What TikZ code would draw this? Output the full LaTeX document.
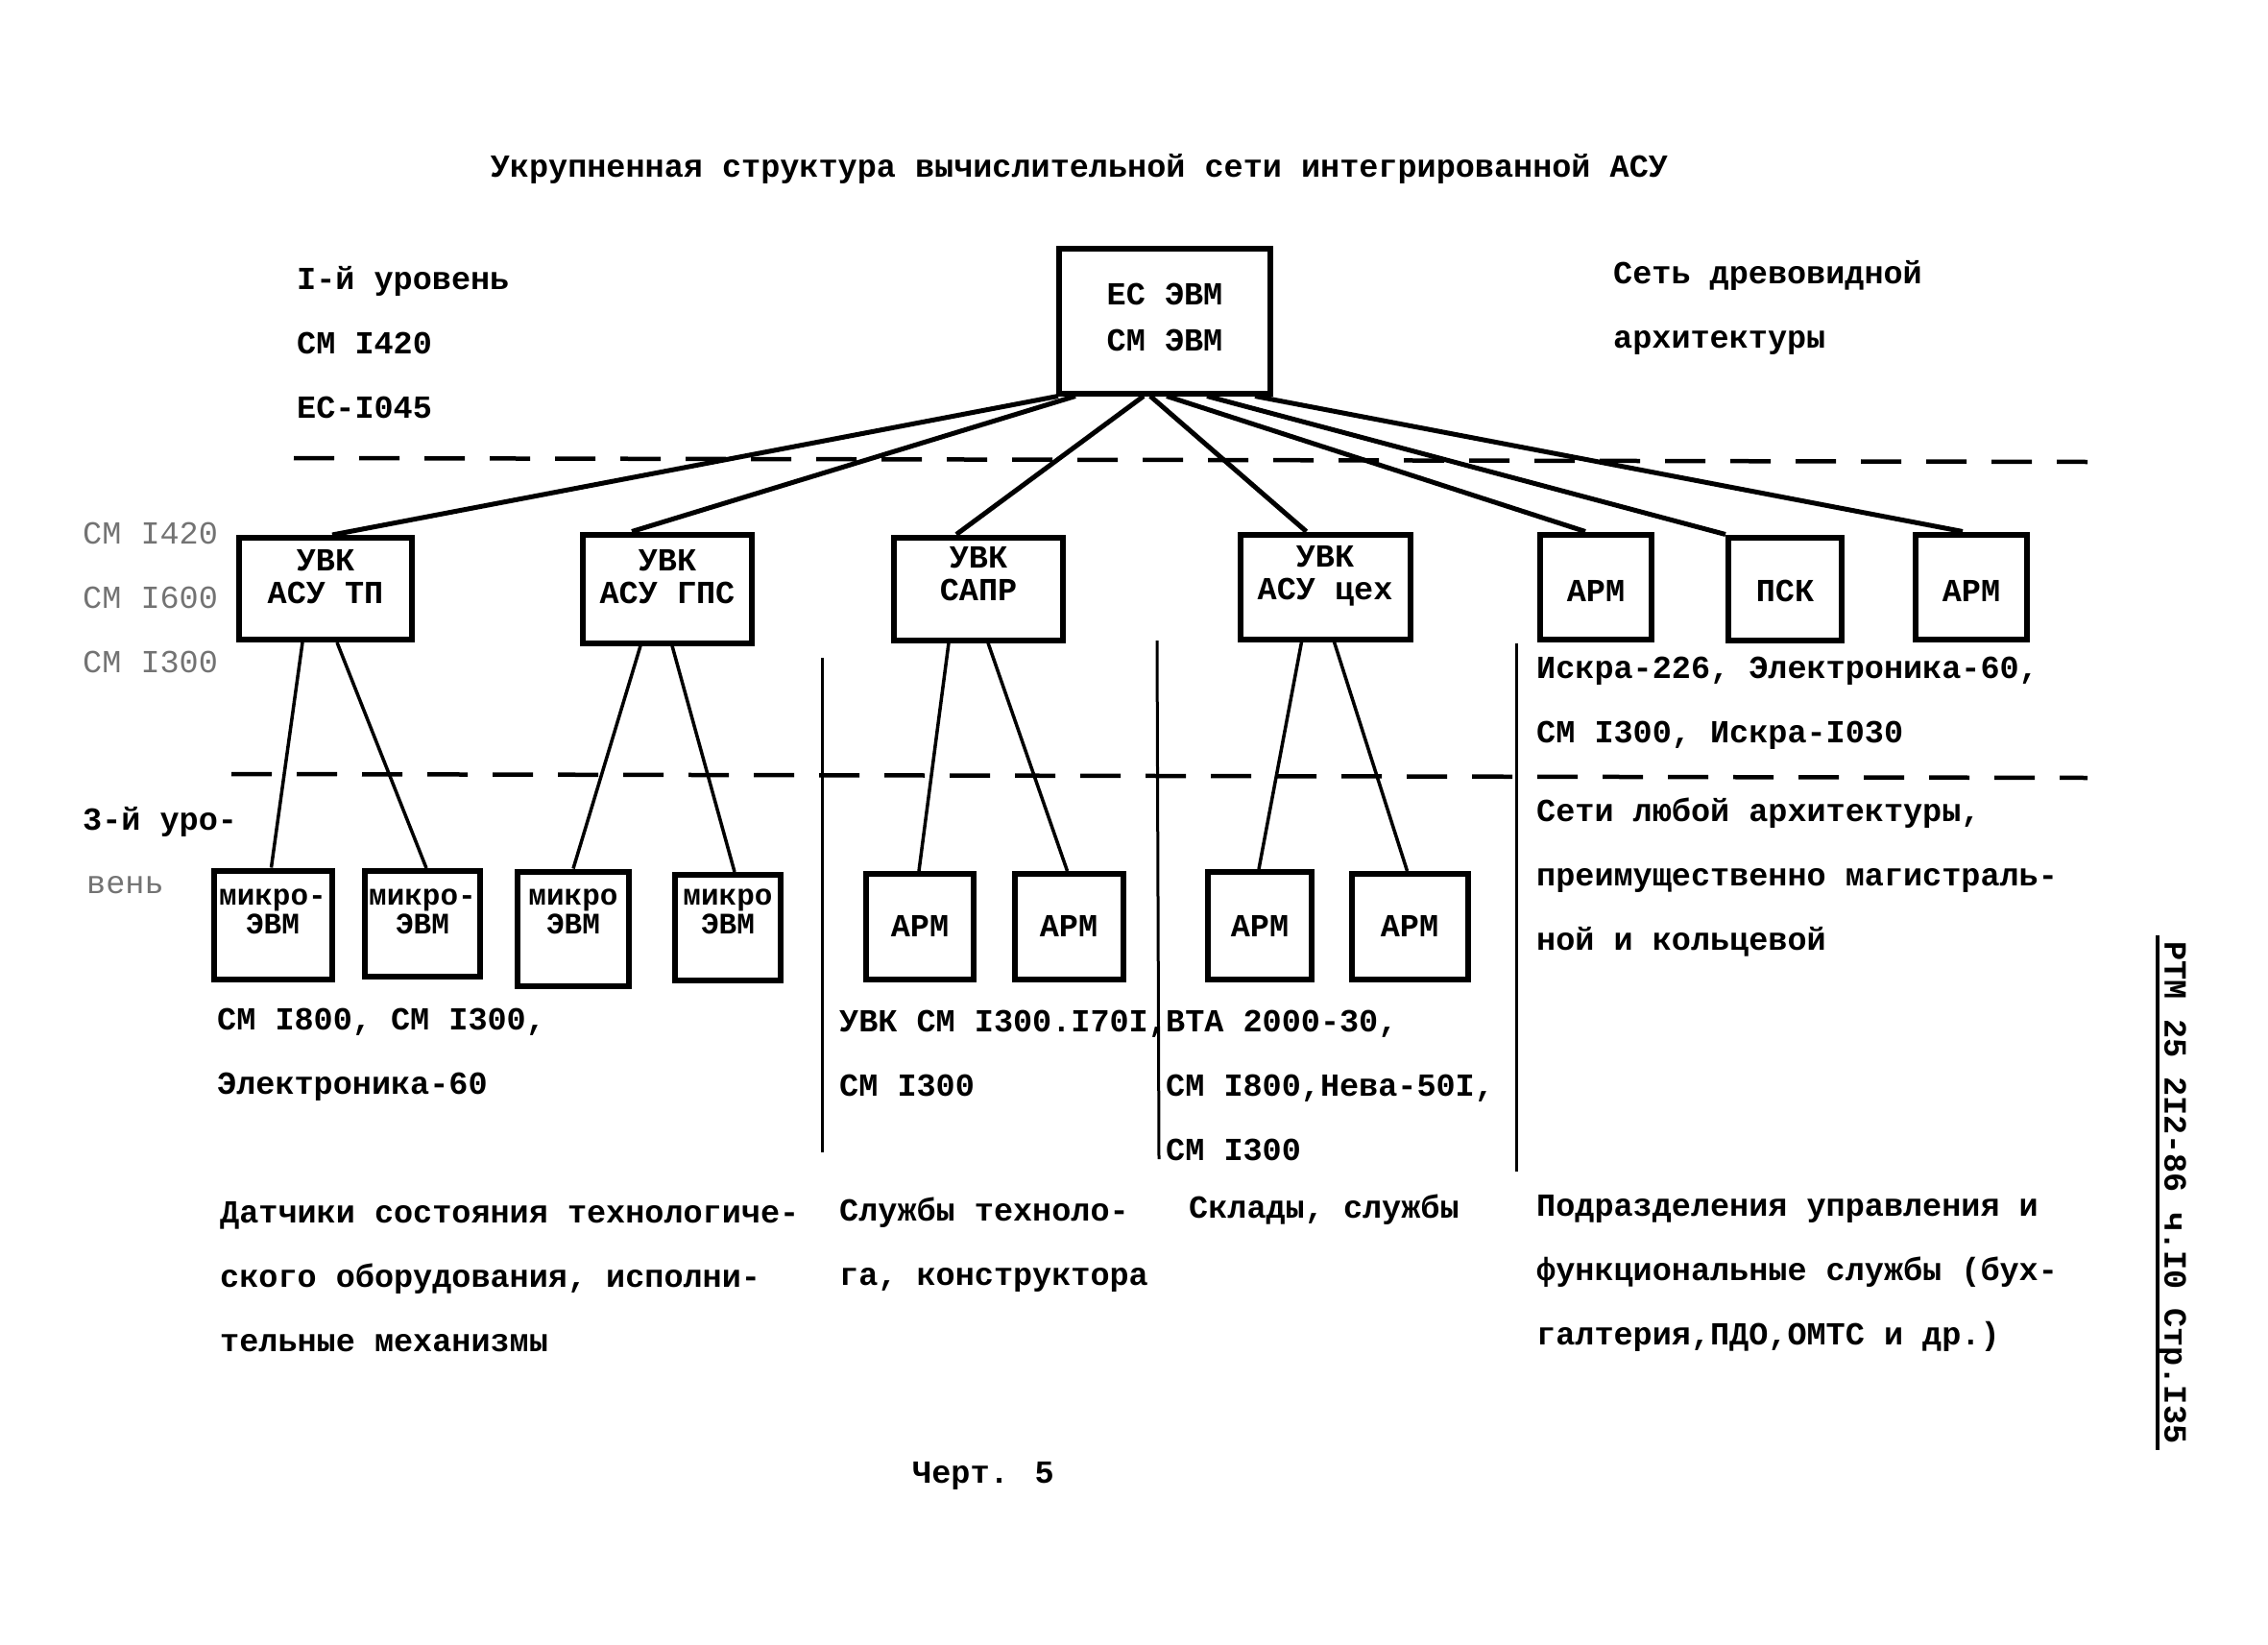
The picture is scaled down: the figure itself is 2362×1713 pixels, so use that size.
\documentclass[tikz,border=0pt]{standalone}
\usepackage{fontspec}
\setmainfont{Liberation Mono}
\usetikzlibrary{calc}
\begin{document}
\begin{tikzpicture}[x=1pt,y=-1pt,
  txt/.style={font=\fontsize{33.5}{67}\selectfont\bfseries, inner sep=0pt, anchor=west, align=left},
  faint/.style={font=\fontsize{33.5}{67}\selectfont, text=black!55, inner sep=0pt, anchor=west, align=left},
  box/.style={draw, line width=6pt, inner sep=0pt},
  btxt/.style={font=\fontsize{33.5}{34}\selectfont\bfseries, inner sep=0pt, align=center},
  stxt/.style={font=\fontsize{31}{30}\selectfont\bfseries, inner sep=0pt, align=center},
  link/.style={line width=5pt},
  thinlink/.style={line width=3.5pt},
  vsep/.style={line width=3pt},
  dsep/.style={line width=4.5pt, dash pattern=on 42pt off 26pt}
]
\useasboundingbox (0,0) rectangle (2362,1713);

% title
\node[txt, anchor=center] (title) at (1124,176) {Укрупненная структура вычислительной сети интегрированной АСУ};

% level 1 labels
\node[txt] (l1) at (309,357) {I-й уровень\\СМ I420\\ЕС-I045};
\node[txt] (r1) at (1680,320) {Сеть древовидной\\архитектуры};

% top box
\node[box, minimum width=220pt, minimum height=151pt] (top) at (1213,334) {};
\node[btxt, font=\fontsize{33.5}{48}\selectfont\bfseries] (topt) at (1213,330) {ЕС ЭВМ\\СМ ЭВМ};

% dashed separators
\coordinate (d1a) at (306,477);
\coordinate (d1b) at (2174,481);
\draw[dsep] (d1a) -- (d1b);
\coordinate (d2a) at (241,806);
\coordinate (d2b) at (2174,810);
\draw[dsep] (d2a) -- (d2b);

% level 2 labels
\node[faint] (l2) at (86,622) {СМ I420\\СМ I600\\СМ I300};

% level 2 boxes
\node[box, minimum width=180pt, minimum height=106pt] (tp) at (339,613) {};
\node[btxt] (tpt) at (339,601) {УВК\\АСУ ТП};
\node[box, minimum width=176pt, minimum height=113pt] (gps) at (695,613) {};
\node[btxt] (gpst) at (695,601) {УВК\\АСУ ГПС};
\node[box, minimum width=176pt, minimum height=107pt] (sapr) at (1019,613) {};
\node[btxt] (saprt) at (1019,598) {УВК\\САПР};
\node[box, minimum width=177pt, minimum height=109pt] (ceh) at (1380,611) {};
\node[btxt] (ceht) at (1380,600) {УВК\\АСУ цех};
\node[box, minimum width=116pt, minimum height=109pt] (arm1) at (1662,611) {};
\node[btxt] (arm1t) at (1662,615) {АРМ};
\node[box, minimum width=118pt, minimum height=107pt] (psk) at (1859,613) {};
\node[btxt] (pskt) at (1859,615) {ПСК};
\node[box, minimum width=116pt, minimum height=109pt] (arm2) at (2053,611) {};
\node[btxt] (arm2t) at (2053,615) {АРМ};

% top connectors
\draw[link] ([xshift=2pt]top.south west) -- ([xshift=100pt]tp.north west);
\draw[link] ([xshift=20pt]top.south west) -- ([xshift=54pt]gps.north west);
\draw[link] ([xshift=91pt]top.south west) -- ([xshift=68pt]sapr.north west);
\draw[link] ([xshift=98pt]top.south west) -- ([xshift=72pt]ceh.north west);
\draw[link] ([xshift=115pt]top.south west) -- ([xshift=50pt]arm1.north west);
\draw[link] ([xshift=157pt]top.south west) -- ([xshift=0pt]psk.north west);
\draw[link] ([xshift=207pt]top.south west) -- ([xshift=52pt]arm2.north west);

% right texts, level 2
\node[txt] (r2) at (1600,732) {Искра-226, Электроника-60,\\СМ I300, Искра-I030};

% vertical separators
\coordinate (v1a) at (856,685);
\coordinate (v1b) at (856,1200);
\draw[vsep] (v1a) -- (v1b);
\coordinate (v2a) at (1205,667);
\coordinate (v2b) at (1207,1207);
\draw[vsep] (v2a) -- (v2b);
\coordinate (v3a) at (1579,670);
\coordinate (v3b) at (1579,1220);
\draw[vsep] (v3a) -- (v3b);

% level 3 labels
\node[txt] (l3a) at (86,856) {3-й уро-};
\node[faint] (l3b) at (90,922) {вень};

% level 3 boxes
\node[box, minimum width=123pt, minimum height=113pt] (m1) at (284,963) {};
\node[stxt] (m1t) at (284,949) {микро-\\ЭВМ};
\node[box, minimum width=120pt, minimum height=110pt] (m2) at (440,962) {};
\node[stxt] (m2t) at (440,949) {микро-\\ЭВМ};
\node[box, minimum width=116pt, minimum height=119pt] (m3) at (597,967) {};
\node[stxt] (m3t) at (597,949) {микро\\ЭВМ};
\node[box, minimum width=110pt, minimum height=110pt] (m4) at (758,966) {};
\node[stxt] (m4t) at (758,949) {микро\\ЭВМ};
\node[box, minimum width=112pt, minimum height=110pt] (a1) at (958,965) {};
\node[btxt] (a1t) at (958,964) {АРМ};
\node[box, minimum width=113pt, minimum height=110pt] (a2) at (1113,965) {};
\node[btxt] (a2t) at (1113,964) {АРМ};
\node[box, minimum width=108pt, minimum height=112pt] (a3) at (1312,964) {};
\node[btxt] (a3t) at (1312,964) {АРМ};
\node[box, minimum width=121pt, minimum height=110pt] (a4) at (1468,965) {};
\node[btxt] (a4t) at (1468,964) {АРМ};

% level 2 -> level 3 connectors
\draw[thinlink] ([xshift=69pt]tp.south west) -- ([xshift=63pt]m1.north west);
\draw[thinlink] ([xshift=105pt]tp.south west) -- ([xshift=67pt]m2.north west);
\draw[thinlink] ([xshift=63pt]gps.south west) -- ([xshift=61pt]m3.north west);
\draw[thinlink] ([xshift=96pt]gps.south west) -- ([xshift=65pt]m4.north west);
\draw[thinlink] ([xshift=60pt]sapr.south west) -- ([xshift=58pt]a1.north west);
\draw[thinlink] ([xshift=101pt]sapr.south west) -- ([xshift=58pt]a2.north west);
\draw[thinlink] ([xshift=67pt]ceh.south west) -- ([xshift=56pt]a3.north west);
\draw[thinlink] ([xshift=101pt]ceh.south west) -- ([xshift=61pt]a4.north west);

% level 3 texts
\node[txt] (t1) at (226,1098) {СМ I800, СМ I300,\\Электроника-60};
\node[txt] (t2) at (874,1097) {УВК СМ I300.I70I,\\СМ I300};
\node[txt] (t3) at (1214,1130) {ВТА 2000-30,\\СМ I800,Нева-50I,\\СМ I300};
\node[txt] (t4) at (1600,914) {Сети любой архитектуры,\\преимущественно магистраль-\\ной и кольцевой};

% bottom texts
\node[txt] (b1) at (229,1330) {Датчики состояния технологиче-\\ского оборудования, исполни-\\тельные механизмы};
\node[txt] (b2) at (874,1296) {Службы техноло-\\га, конструктора};
\node[txt] (b3) at (1238,1260) {Склады, службы};
\node[txt] (b4) at (1600,1326) {Подразделения управления и\\функциональные службы (бух-\\галтерия,ПДО,ОМТС и др.)};

% caption
\node[txt, anchor=center] (cap) at (1024,1537) {Черт. 5};

% vertical page reference
\node[txt, anchor=center, rotate=-90] (ref) at (2262,1242) {РТМ 25 2I2-86 ч.I0 Стр.I35};
\draw[line width=3.5pt] ([yshift=6pt]ref.south west) -- ([yshift=-6pt]ref.south east);
\end{tikzpicture}
\end{document}
